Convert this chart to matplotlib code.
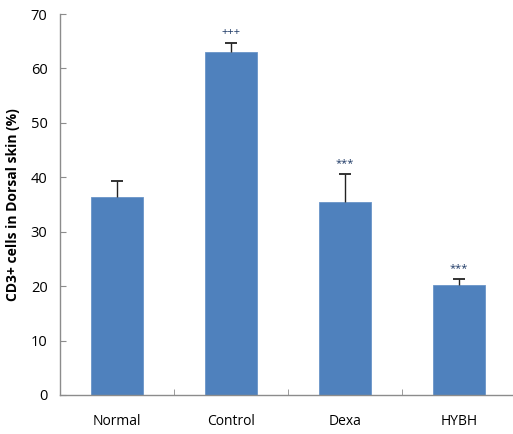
import numpy as np
import matplotlib.pyplot as plt

groups = ['Normal', 'Control', 'Dexa', 'HYBH']
means = [36.4, 63.1, 35.5, 20.3]
errors = [2.9, 1.5, 5.1, 1.0]
marks = ['', '+++', '***', '***']

plt.rcParams['font.family'] = ['Open Sans', 'DejaVu Sans']

fig = plt.figure(figsize=(5.13, 4.34), dpi=100)
ax = fig.add_axes([60 / 513, 1 - 395 / 434, 456 / 513, 381 / 434])

x = np.arange(len(groups))
tops = np.array(means) + np.array(errors)
ax.bar(x, means, width=0.45, color='#4f81bd', edgecolor='#6a94c8', linewidth=0.6, zorder=2)

# upper error bars only, cap on top
ax.vlines(x, means, tops, color='#222222', linewidth=1.0, zorder=3)
ax.hlines(tops, x - 0.05, x + 0.05, color='#222222', linewidth=1.3, zorder=3)

for xi, top, t in zip(x, tops, marks):
    if t:
        ax.text(xi, top + 2.0, t, ha='center', va='center', fontsize=8,
                color='#1f3a66')

ax.set_xlim(-0.5, 3.5)
ax.set_ylim(0, 70)
ax.set_yticks(np.arange(0, 71, 10))
ax.set_xticks(x)
ax.set_xticklabels(groups)
ax.set_xticks(np.arange(0.5, 3.0, 1.0), minor=True)

for s in ['top', 'right']:
    ax.spines[s].set_visible(False)
for s in ['left', 'bottom']:
    ax.spines[s].set_color('#8c8c8c')
    ax.spines[s].set_linewidth(1.0)

ax.tick_params(axis='y', direction='in', length=4, color='#8c8c8c',
               labelsize=10.5, pad=9)
ax.tick_params(axis='x', which='major', length=0, labelsize=10, pad=14)
ax.tick_params(axis='x', which='minor', direction='in', length=4, color='#8c8c8c')

ax.set_ylabel('CD3+ cells in Dorsal skin (%)', fontsize=10, fontweight='bold', labelpad=8)

fig.savefig('out.png', dpi=100)
